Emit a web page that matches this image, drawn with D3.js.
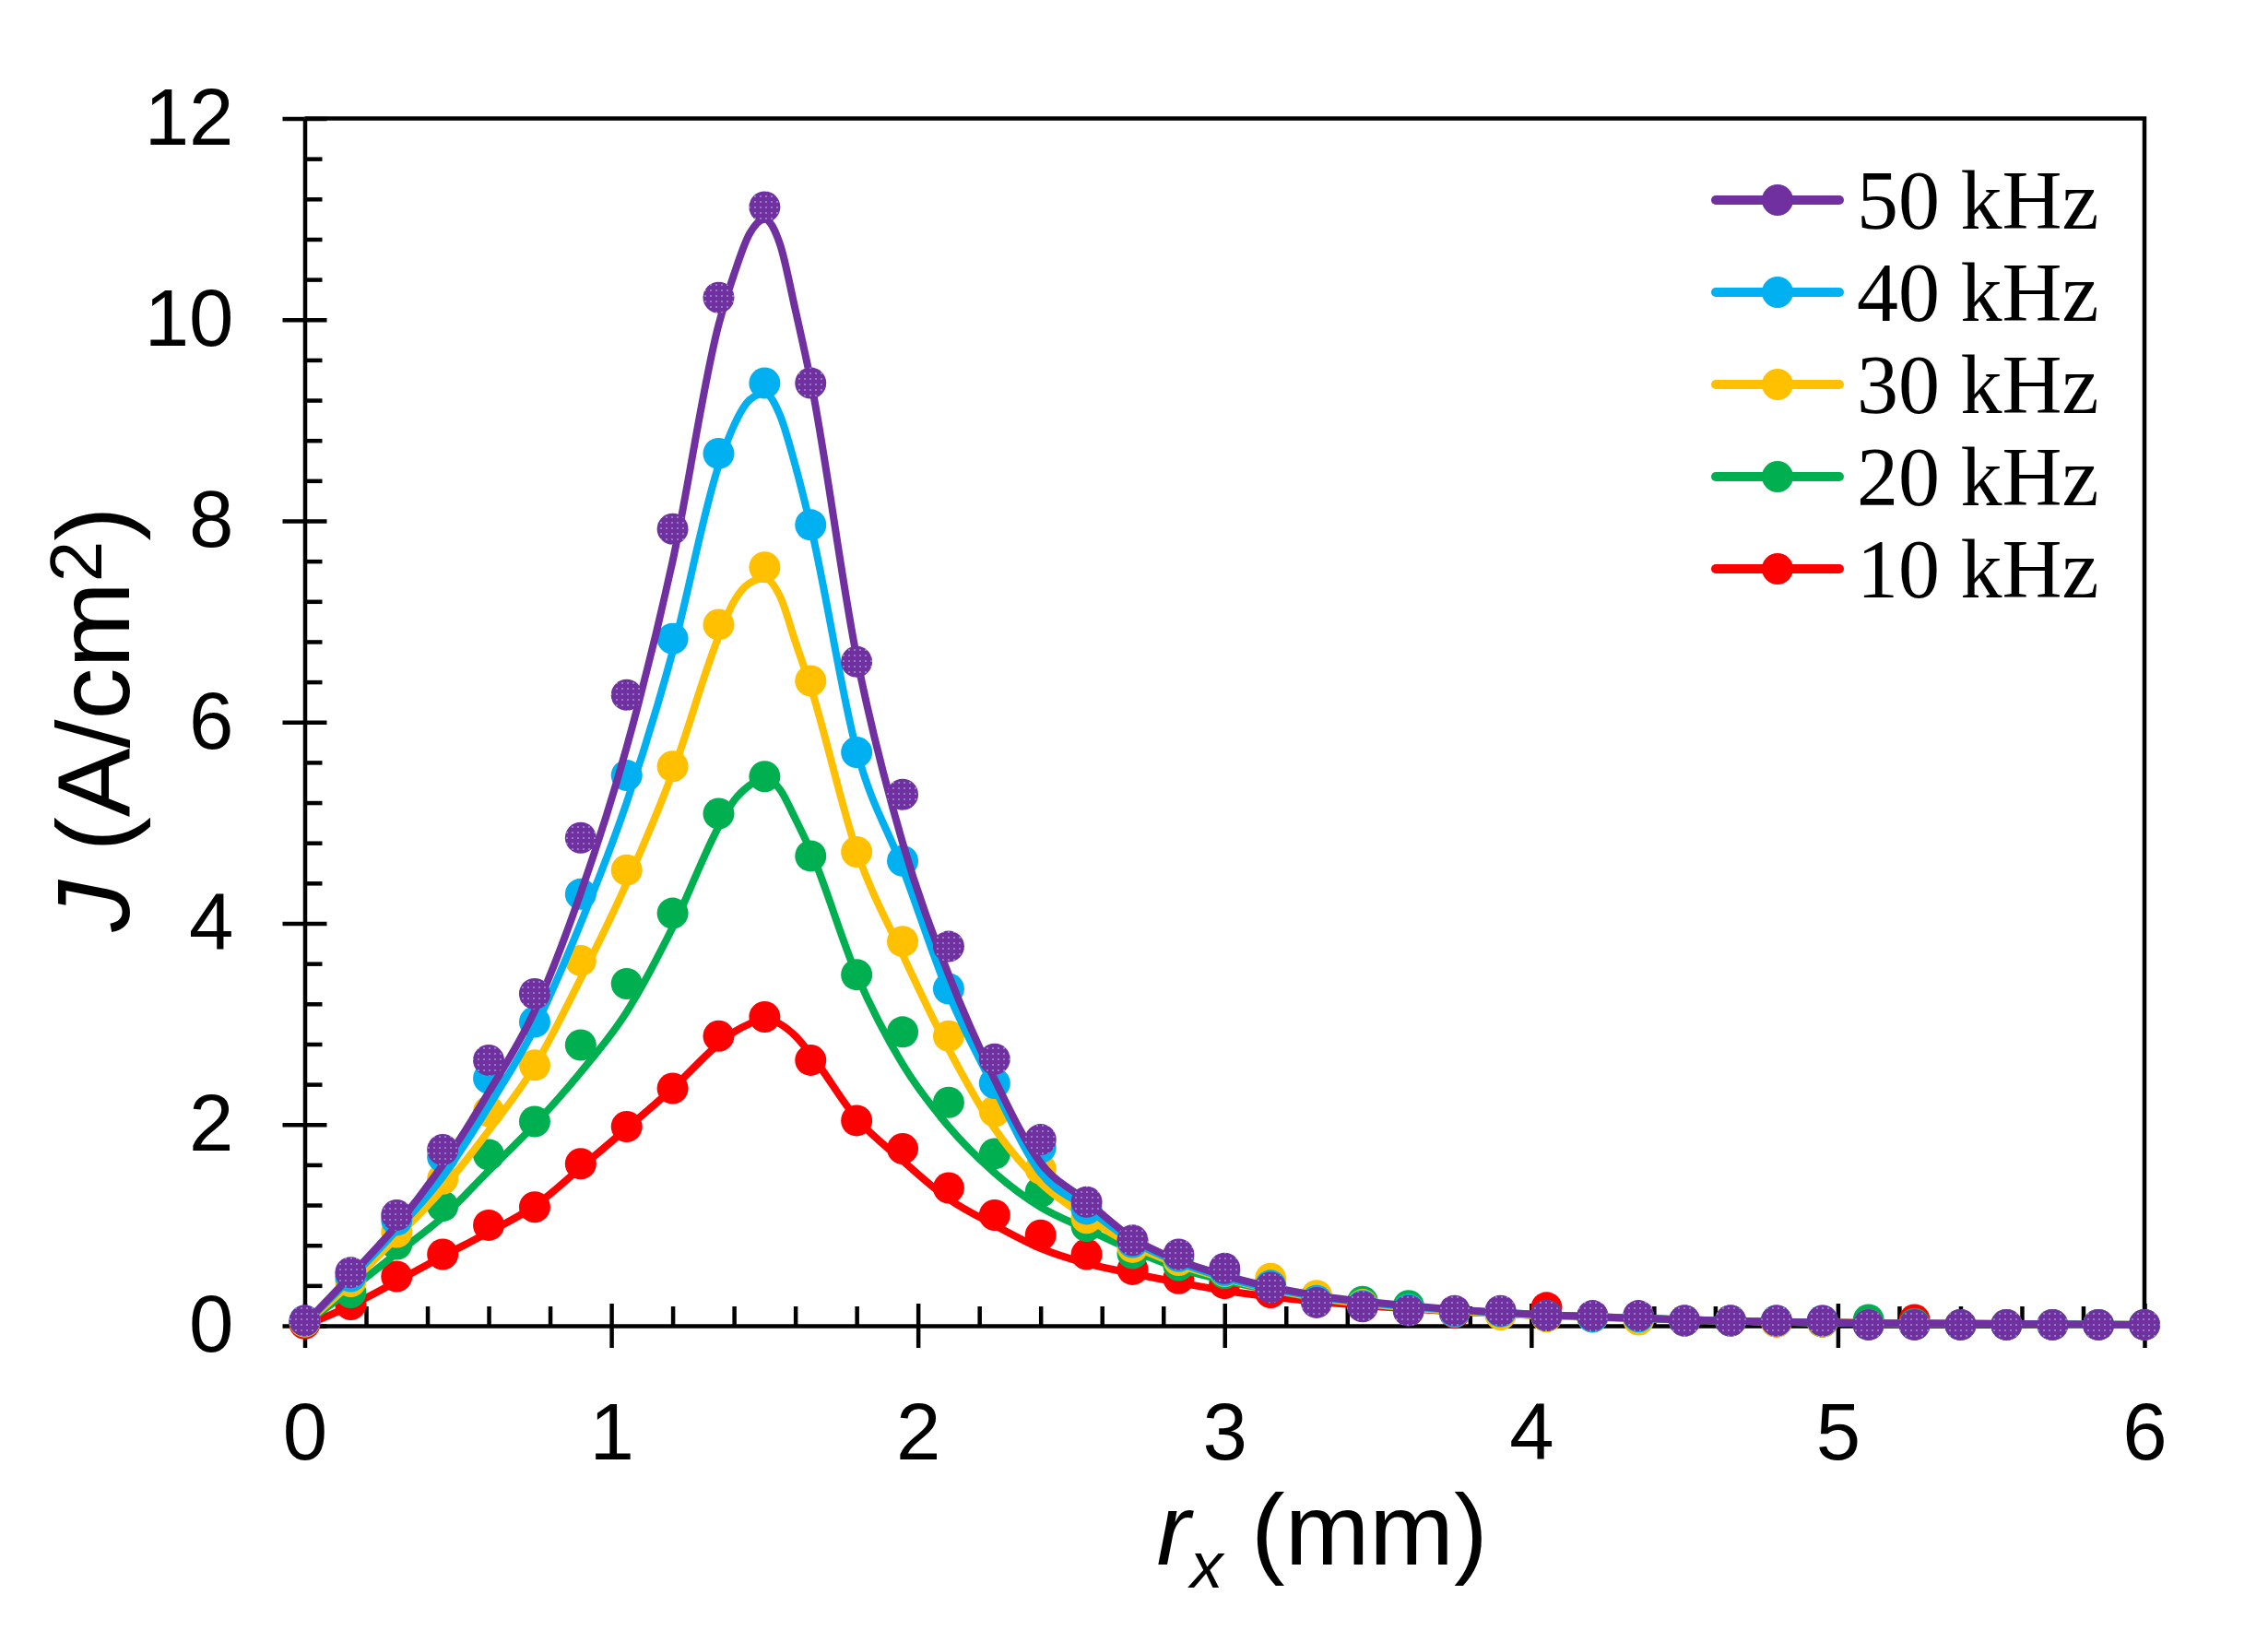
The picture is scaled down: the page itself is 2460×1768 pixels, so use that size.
<!DOCTYPE html>
<html>
<head>
<meta charset="utf-8">
<script src="https://cdn.jsdelivr.net/npm/d3@7"></script>
<style>
  body { margin: 0; background: #fff; }
</style>
</head>
<body>
<script>
// measured points (r_x in mm, J in A/cm2)
const rx = [0,0.15,0.3,0.45,0.6,0.75,0.9,1.05,1.2,1.35,1.5,1.65,1.8,1.95,2.1,2.25,2.4,2.55,2.7,2.85,3.0,
            3.15,3.3,3.45,3.6,3.75,3.9,4.05,4.2,4.35,4.5,4.65,4.8,4.95,5.1,5.25,5.4,5.55,5.7,5.85,6.0];
const j50 = [0.05,0.53,1.10,1.75,2.64,3.30,4.85,6.27,7.92,10.22,11.12,9.37,6.60,5.28,3.77,2.65,1.85,1.23,0.85,0.71,0.57,
             0.38,0.23,0.19,0.15,0.15,0.15,0.10,0.10,0.10,0.05,0.05,0.05,0.05,0.01,0.01,0.01,0.01,0.01,0.01,0.01];
const j40 = [0.05,0.49,1.05,1.68,2.46,3.02,4.29,5.47,6.83,8.67,9.37,7.96,5.70,4.62,3.35,2.41,1.77,1.16,0.83,0.69,0.55,
             0.40,0.25,0.20,0.16,0.14,0.14,0.10,0.09,0.09,0.05,0.05,0.05,0.05,0.01,0.01,0.01,0.01,0.01,0.01,0.01];
const j30 = [0.04,0.44,0.93,1.46,2.13,2.59,3.63,4.53,5.56,6.97,7.54,6.41,4.71,3.82,2.88,2.13,1.56,1.07,0.78,0.65,0.54,
             0.47,0.30,0.21,0.16,0.14,0.11,0.09,0.09,0.06,0.05,0.05,0.04,0.04,0.01,0.01,0.01,0.01,0.01,0.01,0.01];
const j20 = [0.04,0.33,0.81,1.19,1.70,2.03,2.79,3.40,4.10,5.09,5.46,4.67,3.49,2.92,2.22,1.71,1.33,0.99,0.72,0.60,0.52,
             0.40,0.26,0.24,0.20,0.14,0.13,0.10,0.09,0.08,0.05,0.05,0.05,0.04,0.06,0.02,0.01,0.01,0.01,0.01,0.01];
const j10 = [0.02,0.21,0.49,0.71,1.00,1.18,1.61,1.98,2.36,2.88,3.07,2.64,2.04,1.76,1.37,1.10,0.90,0.71,0.56,0.47,0.42,
             0.33,0.25,0.20,0.16,0.13,0.12,0.18,0.09,0.08,0.05,0.05,0.04,0.04,0.03,0.06,0.01,0.01,0.01,0.01,0.01];

// fitted curves
const fitX  = [0,0.15,0.3,0.45,0.6,0.75,0.9,1.05,1.2,1.35,1.4,1.45,1.5,1.55,1.6,1.65,1.8,1.95,2.1,2.25,2.4,
               2.55,2.7,2.85,3.0,3.3,3.6,3.9,4.2,4.5,4.8,5.1,5.4,5.7,6.0];
const fit50 = [0.02,0.50,1.00,1.60,2.32,3.13,4.30,5.75,7.60,9.95,10.45,10.85,11.0,10.75,10.1,9.40,6.65,4.80,3.49,2.45,1.62,
               1.24,0.87,0.65,0.50,0.30,0.20,0.13,0.09,0.06,0.04,0.025,0.02,0.015,0.01];
const fit40 = [0.02,0.47,0.95,1.48,2.18,2.96,4.00,5.20,6.70,8.55,8.95,9.20,9.27,9.05,8.55,7.95,5.72,4.55,3.30,2.36,1.52,
               1.17,0.84,0.63,0.48,0.29,0.19,0.13,0.09,0.06,0.04,0.025,0.02,0.015,0.01];
const fit30 = [0.02,0.42,0.88,1.36,1.94,2.58,3.45,4.40,5.50,6.85,7.20,7.38,7.43,7.25,6.80,6.35,4.72,3.69,2.75,1.96,1.42,
               1.08,0.80,0.61,0.47,0.28,0.18,0.12,0.085,0.06,0.04,0.025,0.02,0.015,0.01];
const fit20 = [0.02,0.36,0.72,1.08,1.54,2.00,2.52,3.12,3.96,4.96,5.22,5.37,5.45,5.33,5.04,4.72,3.49,2.60,1.98,1.52,1.18,
               0.96,0.75,0.57,0.45,0.28,0.18,0.12,0.085,0.06,0.04,0.025,0.02,0.015,0.01];
const fit10 = [0.0,0.20,0.44,0.69,0.93,1.19,1.57,1.96,2.36,2.80,2.92,3.00,3.05,3.00,2.88,2.70,2.06,1.64,1.26,1.00,0.77,
               0.62,0.52,0.43,0.35,0.24,0.17,0.12,0.09,0.06,0.04,0.03,0.02,0.015,0.01];

const names  = ["10 kHz","20 kHz","30 kHz","40 kHz","50 kHz"];
const colors = ["#FF0000","#00B050","#FFC000","#00B0F0","#7030A0"];
const xMajor = [0,1,2,3,4,5,6];
const yMajor = [0,2,4,6,8,10,12];

const series = [
  {name:names[0], color:colors[0], pts:j10, fit:fit10},
  {name:names[1], color:colors[1], pts:j20, fit:fit20},
  {name:names[2], color:colors[2], pts:j30, fit:fit30},
  {name:names[3], color:colors[3], pts:j40, fit:fit40},
  {name:names[4], color:colors[4], pts:j50, fit:fit50}
];

const W = 2460, H = 1768;
const svg = d3.select("body").append("svg")
  .attr("width", W).attr("height", H)
  .style("display","block");

svg.append("rect").attr("width",W).attr("height",H).attr("fill","#fff");

// dotted fill for the purple markers
const defs = svg.append("defs");
const pat = defs.append("pattern").attr("id","dots")
  .attr("width",6).attr("height",6).attr("patternUnits","userSpaceOnUse");
pat.append("rect").attr("width",6).attr("height",6).attr("fill","#7030A0");
pat.append("circle").attr("cx",3).attr("cy",3).attr("r",0.75).attr("fill","#bfe9ff");

const x = d3.scaleLinear().domain([0,6]).range([330.5,2326]);
const y = d3.scaleLinear().domain([0,12]).range([1438,128.5]);

const sansFont = "'Liberation Sans', Arial, sans-serif";
const serifFont = "'Liberation Serif', 'Times New Roman', serif";

// minor ticks
const xMinor = d3.range(0,6.001,0.2).filter(v => Math.abs(v-Math.round(v))>1e-6);
const yMinor = d3.range(0,12.001,0.4).filter(v => Math.abs(v/2-Math.round(v/2))>1e-6);

// ---- x axis
const gx = svg.append("g").attr("transform",`translate(0,${y(0)})`);
gx.call(d3.axisBottom(x).tickValues(xMajor).tickSize(24).tickSizeOuter(0).tickPadding(59)
  .tickFormat(d3.format("d")));
gx.append("g").call(d3.axisBottom(x).tickValues(xMajor).tickSize(-24).tickFormat(""))
  .call(g => g.select(".domain").remove());
gx.append("g").call(d3.axisBottom(x).tickValues(xMinor).tickSize(-21).tickFormat(""))
  .call(g => g.select(".domain").remove());
gx.selectAll("text").attr("font-family",sansFont).attr("font-size",87).attr("fill","#000");

// ---- y axis
const gy = svg.append("g").attr("transform",`translate(${x(0)},0)`);
gy.call(d3.axisLeft(y).tickValues(yMajor).tickSize(24).tickSizeOuter(0).tickPadding(53));
gy.append("g").call(d3.axisLeft(y).tickValues(yMajor).tickSize(-24).tickFormat(""))
  .call(g => g.select(".domain").remove());
gy.append("g").call(d3.axisLeft(y).tickValues(yMinor).tickSize(-19).tickFormat(""))
  .call(g => g.select(".domain").remove());
gy.selectAll("text").attr("font-family",sansFont).attr("font-size",87).attr("fill","#000");

svg.selectAll(".domain, .tick line").attr("stroke","#000").attr("stroke-width",4.5);

// frame top + right
svg.append("path")
  .attr("d",`M${x.range()[0]},${y.range()[1]}H${x.range()[1]}V${y.range()[0]}`)
  .attr("fill","none").attr("stroke","#000").attr("stroke-width",4.5);

// ---- series
const line = d3.line()
  .x(d => x(d[0]))
  .y(d => y(d[1]))
  .curve(d3.curveMonotoneX);

series.forEach(s => {
  const g = svg.append("g");
  g.append("path")
    .datum(fitX.map((v,i) => [v, s.fit[i]]))
    .attr("d", line)
    .attr("fill","none")
    .attr("stroke", s.color)
    .attr("stroke-width", 8)
    .attr("stroke-linejoin","round")
    .attr("stroke-linecap","round");
  g.selectAll("circle")
    .data(rx.map((v,i) => [v, s.pts[i]]))
    .enter().append("circle")
    .attr("cx", d => x(d[0]))
    .attr("cy", d => y(d[1]))
    .attr("r", 17)
    .attr("fill", s.name === "50 kHz" ? "url(#dots)" : s.color);
});

// ---- legend
const legend = svg.append("g");
series.slice().reverse().forEach((s,i) => {
  const ly = 217 + i*100;
  legend.append("line")
    .attr("x1",1861).attr("x2",1995).attr("y1",ly).attr("y2",ly)
    .attr("stroke",s.color).attr("stroke-width",10).attr("stroke-linecap","round");
  legend.append("circle").attr("cx",1928).attr("cy",ly).attr("r",17).attr("fill",s.color);
  legend.append("text")
    .attr("x",2014).attr("y",ly+31)
    .attr("font-family",serifFont).attr("font-size",90).attr("fill","#000")
    .text(s.name);
});

// ---- axis titles
const yt = svg.append("text")
  .attr("transform","translate(140,780) rotate(-90)")
  .attr("text-anchor","middle")
  .attr("font-family",sansFont).attr("font-size",112).attr("fill","#000");
yt.append("tspan").attr("font-style","italic").text("J");
yt.append("tspan").text(" (A/cm");
yt.append("tspan").attr("font-size",80).attr("dy",-30).text("2");
yt.append("tspan").attr("dy",30).text(")");

const xt = svg.append("text")
  .attr("x",1434).attr("y",1697)
  .attr("text-anchor","middle")
  .attr("font-family",sansFont).attr("font-size",110).attr("fill","#000");
xt.append("tspan").attr("font-style","italic").text("r");
xt.append("tspan").attr("font-style","italic").attr("font-size",71).attr("dy",25).text("x");
xt.append("tspan").attr("dy",-25).text(" (mm)");
</script>
</body>
</html>
